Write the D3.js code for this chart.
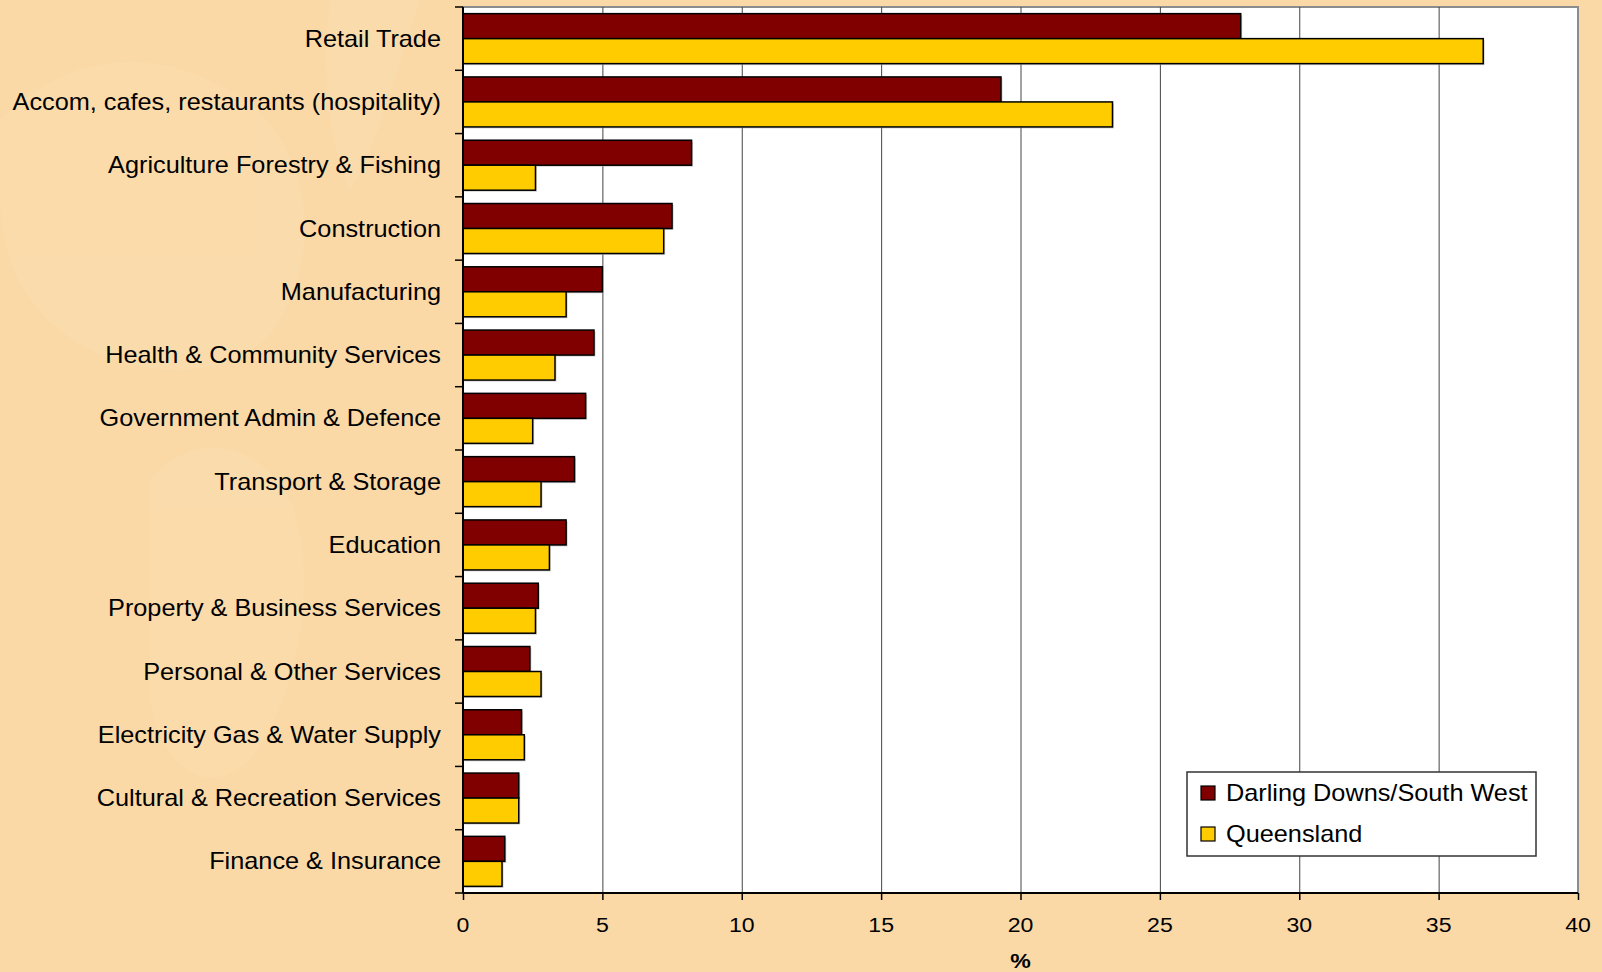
<!DOCTYPE html>
<html>
<head>
<meta charset="utf-8">
<script src="https://cdn.jsdelivr.net/npm/d3@7"></script>
<style>
  html, body { margin: 0; padding: 0; background: #FAD9A7; }
  svg { display: block; font-family: "Liberation Sans", Arial, sans-serif; }
</style>
</head>
<body>
<svg width="1602" height="972"></svg>
<script>
// data
var categories = [
  "Retail Trade",
  "Accom, cafes, restaurants (hospitality)",
  "Agriculture Forestry & Fishing",
  "Construction",
  "Manufacturing",
  "Health & Community Services",
  "Government Admin & Defence",
  "Transport & Storage",
  "Education",
  "Property & Business Services",
  "Personal & Other Services",
  "Electricity Gas & Water Supply",
  "Cultural & Recreation Services",
  "Finance & Insurance"
];
var ddsw = [27.9, 19.3, 8.2, 7.5, 5.0, 4.7, 4.4, 4.0, 3.7, 2.7, 2.4, 2.1, 2.0, 1.5];
var qld  = [36.6, 23.3, 2.6, 7.2, 3.7, 3.3, 2.5, 2.8, 3.1, 2.6, 2.8, 2.2, 2.0, 1.4];
var seriesNames = ["Darling Downs/South West", "Queensland"];
var xTicks = [0, 5, 10, 15, 20, 25, 30, 35, 40];

var colors = ["#800000", "#FFCC00"];

svg = d3.select("svg");
left = 463; right = 1578; top_ = 7; bottom = 893;

// faint background texture
bgTex = svg.append("g").attr("opacity", 0.18);
bgTex.append("path")
    .attr("d", "M0,120 C60,60 140,40 230,90 C300,130 330,230 280,320 C240,390 120,380 60,330 C20,300 0,250 0,200 Z")
    .attr("fill", "#fde6bf");
bgTex.append("path")
    .attr("d", "M150,480 C190,430 260,440 290,500 C320,570 300,700 250,760 C210,800 160,770 150,700 Z")
    .attr("fill", "#fde6bf");
bgTex.append("path")
    .attr("d", "M330,0 L420,0 C400,60 380,140 350,190 C330,150 320,70 330,0 Z")
    .attr("fill", "#fde6bf");

x = d3.scaleLinear()
    .domain([0, 40])
    .range([left, right])
;
y = d3.scaleBand()
    .domain(categories)
    .range([top_, bottom])
    .paddingInner(0.21)
    .paddingOuter(0.105)
;
ySeries = d3.scaleBand()
    .domain([0, 1])
    .range([0, y.bandwidth()])
;

// plot area
svg.append("rect")
    .attr("x", left)
    .attr("y", top_)
    .attr("width", right - left)
    .attr("height", bottom - top_)
    .attr("fill", "#ffffff")
    .attr("stroke", "#8c8c8c")
    .attr("stroke-width", 2)
;

// gridlines
svg.append("g")
    .selectAll("line")
    .data(xTicks.slice(1, -1))
    .join("line")
    .attr("x1", function(d) { return x(d) + 0.5; })
    .attr("x2", function(d) { return x(d) + 0.5; })
    .attr("y1", top_)
    .attr("y2", bottom)
    .attr("stroke", "#444")
    .attr("stroke-width", 1)
;

// bars
seriesData = [ddsw, qld];
bars = svg.append("g");
seriesData.forEach(function(vals, s) {
  var g = bars.append("g");
  g.selectAll("rect.shadow")
      .data(vals)
      .join("rect")
      .attr("class", "shadow")
      .attr("x", x(0) + 1.5)
      .attr("y", function(d, i) { return y(categories[i]) + ySeries(s) + 1.5; })
      .attr("width", function(d) { return x(d) - x(0); })
      .attr("height", ySeries.bandwidth())
      .attr("fill", "#b0b0b0")
      .attr("opacity", 0.6)
  ;
  g.selectAll("rect.bar")
      .data(vals)
      .join("rect")
      .attr("class", "bar")
      .attr("x", x(0))
      .attr("y", function(d, i) { return y(categories[i]) + ySeries(s); })
      .attr("width", function(d) { return x(d) - x(0); })
      .attr("height", ySeries.bandwidth())
      .attr("fill", colors[s])
      .attr("stroke", "#000")
      .attr("stroke-width", 1.5)
  ;
});

// x axis
xAxis = svg.append("g")
    .attr("transform", "translate(0," + bottom + ")")
    .call(d3.axisBottom(x).tickValues(xTicks).tickSize(7).tickPadding(0).tickFormat(""))
;
xAxis.select(".domain").attr("stroke", "#000").attr("stroke-width", 2).attr("d", "M" + left + ",0H" + right);
xAxis.selectAll(".tick line").attr("stroke", "#000").attr("stroke-width", 1.5);

svg.append("g")
    .selectAll("text")
    .data(xTicks)
    .join("text")
    .attr("transform", function(d) { return "translate(" + [x(d), 932] + ") scale(1.1,1)"; })
    .attr("text-anchor", "middle")
    .attr("font-size", 21)
    .attr("fill", "#000")
    .text(function(d) { return d; })
;

svg.append("text")
    .attr("transform", "translate(" + [(left + right) / 2, 968] + ") scale(1.1,1)")
    .attr("text-anchor", "middle")
    .attr("font-size", 21)
    .attr("font-weight", "bold")
    .text("%")
;

// y axis
yBounds = categories.map(function(c) { return y(c) - y.step() * y.paddingInner() / 2; }).concat([bottom]);
yAxis = svg.append("g");
yAxis.append("line")
    .attr("x1", left).attr("x2", left)
    .attr("y1", top_).attr("y2", bottom)
    .attr("stroke", "#000").attr("stroke-width", 2)
;
yAxis.selectAll("line.tick")
    .data(yBounds)
    .join("line")
    .attr("class", "tick")
    .attr("x1", left - 8).attr("x2", left)
    .attr("y1", function(d) { return d; })
    .attr("y2", function(d) { return d; })
    .attr("stroke", "#000").attr("stroke-width", 1.5)
;
yAxis.selectAll("text")
    .data(categories)
    .join("text")
    .attr("transform", function(d) { return "translate(" + [441, y(d) + y.bandwidth() / 2] + ") scale(1.1,1)"; })
    .attr("text-anchor", "end")
    .attr("dominant-baseline", "central")
    .attr("font-size", 23)
    .attr("fill", "#000")
    .text(function(d) { return d; })
;

// legend
legend = svg.append("g").attr("transform", "translate(1187,772)");
legend.append("rect")
    .attr("width", 349)
    .attr("height", 84)
    .attr("fill", "#fff")
    .attr("stroke", "#333")
    .attr("stroke-width", 1.5)
;
seriesNames.forEach(function(name, i) {
  var item = legend.append("g").attr("transform", "translate(" + [14, 21 + i * 41] + ")");
  item.append("rect")
      .attr("x", 0).attr("y", -7)
      .attr("width", 14).attr("height", 14)
      .attr("fill", colors[i])
      .attr("stroke", "#000")
      .attr("stroke-width", 1.2)
  ;
  item.append("text")
      .attr("transform", "translate(25,0) scale(1.1,1)")
      .attr("dominant-baseline", "central")
      .attr("font-size", 23)
      .text(name)
  ;
});
</script>
</body>
</html>
